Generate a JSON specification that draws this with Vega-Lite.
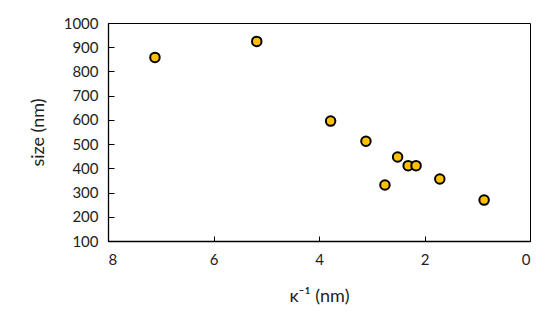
{
  "$schema": "https://vega.github.io/schema/vega-lite/v6.json",
  "autosize": "none",
  "width": 422,
  "height": 218,
  "padding": {"left": 108, "top": 23, "right": 29, "bottom": 93},
  "background": "white",
  "config": {
    "view": {"stroke": "black", "strokeWidth": 1},
    "font": "Lato"
  },
  "data": {
    "values": [
      {"kappa_inv": 7.11, "size": 858},
      {"kappa_inv": 5.18, "size": 924},
      {"kappa_inv": 3.78, "size": 595},
      {"kappa_inv": 3.11, "size": 512},
      {"kappa_inv": 2.51, "size": 447},
      {"kappa_inv": 2.31, "size": 411},
      {"kappa_inv": 2.16, "size": 411},
      {"kappa_inv": 2.75, "size": 331},
      {"kappa_inv": 1.71, "size": 356},
      {"kappa_inv": 0.87, "size": 269}
    ]
  },
  "mark": {"type": "point", "filled": true, "fill": "#FFC000", "stroke": "black", "strokeWidth": 2, "size": 90, "opacity": 1},
  "encoding": {
    "x": {
      "field": "kappa_inv", "type": "quantitative",
      "scale": {"domain": [0, 8], "reverse": true, "nice": false, "zero": false},
      "axis": {
        "values": [0, 2, 4, 6, 8], "grid": false, "domainColor": "black", "domainWidth": 1.3, "format": "d",
        "tickColor": "black", "tickSize": -5, "labelPadding": 16, "labelFontSize": 15, "labelColor": "#222",
        "title": "κ⁻¹  (nm)", "titleFontSize": 18, "titleFontWeight": "normal", "titleColor": "#222", "titlePadding": 20
      }
    },
    "y": {
      "field": "size", "type": "quantitative",
      "scale": {"domain": [100, 1000], "nice": false, "zero": false},
      "axis": {
        "values": [100, 200, 300, 400, 500, 600, 700, 800, 900, 1000], "grid": false, "domainColor": "black", "domainWidth": 1.3, "format": "d",
        "tickColor": "black", "tickSize": -6, "labelPadding": 16, "labelFontSize": 15, "labelColor": "#222",
        "title": "size (nm)", "titleFontSize": 18, "titleFontWeight": "normal", "titleColor": "#222", "titlePadding": 16
      }
    }
  }
}
